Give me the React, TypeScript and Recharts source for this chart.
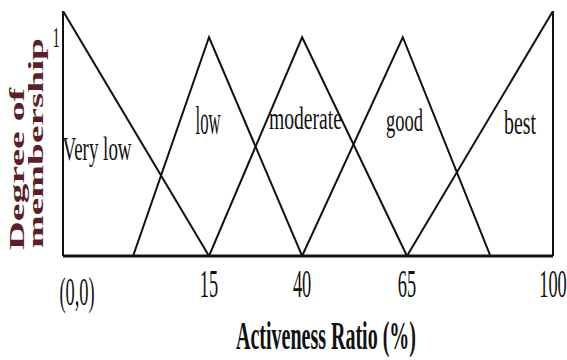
import React from 'react';
import { LineChart, Line, XAxis, YAxis, ReferenceLine, ReferenceDot } from 'recharts';

// membership functions: x = activeness ratio (%), y = degree of membership
const veryLow = [{ x: 0, y: 1.12 }, { x: 15, y: 0 }];
const low = [{ x: 7.2, y: 0 }, { x: 15, y: 1 }, { x: 40, y: 0 }];
const moderate = [{ x: 15, y: 0 }, { x: 40, y: 1 }, { x: 65, y: 0 }];
const good = [{ x: 40, y: 0 }, { x: 64, y: 1 }, { x: 85, y: 0 }];
const best = [{ x: 65, y: 0 }, { x: 100, y: 1.12 }];

const setNames = ['Very low', 'low', 'moderate', 'good', 'best'];
const labelX = [3.5, 14.9, 40.8, 64.4, 92.1];
const labelY = [0.44, 0.56, 0.58, 0.57, 0.56];

const xTicks = [0, 15, 40, 65, 100];
const xTickLabels = ['(0,0)', '15', '40', '65', '100'];
const yTicks = [1];

// the drawing is not to scale: each tick sits at a fixed share of the axis
const X_FRACS = [0, 0.298, 0.488, 0.702, 1];

function stretchScale() {
  let dom = [0, 100];
  let rng = [0, 1];
  const s: any = (v: number) => {
    let i = 0;
    while (i < xTicks.length - 2 && v > xTicks[i + 1]) i++;
    const t = (v - xTicks[i]) / (xTicks[i + 1] - xTicks[i]);
    const f = X_FRACS[i] + t * (X_FRACS[i + 1] - X_FRACS[i]);
    return rng[0] + f * (rng[1] - rng[0]);
  };
  s.domain = (d?: any[]) => {
    if (d === undefined) return dom.slice();
    dom = d.map(Number);
    return s;
  };
  s.range = (r?: any[]) => {
    if (r === undefined) return rng.slice();
    rng = r.map(Number);
    return s;
  };
  s.copy = () => stretchScale().domain(dom).range(rng);
  s.ticks = () => xTicks.slice();
  return s;
}

const FONT = '"Liberation Serif", "DejaVu Serif", serif';
const INK = '#111';
const TITLE_RED = '#5a1f2b';

const labelStyle = [
  { size: 34, width: 69 },
  { size: 40, width: 25 },
  { size: 32, width: 73 },
  { size: 32, width: 37 },
  { size: 34, width: 32 },
];

const SText = ({ x, y, text, size, sx = 1, len, weight = 'normal', fill = INK, rotate = false, anchor = 'middle' }: any) => (
  <text
    transform={`translate(${x},${y}) scale(${sx},1)${rotate ? ' rotate(-90)' : ''}`}
    textAnchor={anchor}
    fontFamily={FONT}
    fontSize={size}
    fontWeight={weight}
    fill={fill}
    textLength={len}
    lengthAdjust={len ? 'spacingAndGlyphs' : undefined}
  >
    {text}
  </text>
);

const XTick = ({ x, y, payload }: any) => {
  const i = xTicks.indexOf(payload.value);
  const first = i === 0;
  return <SText x={x + (first ? 14 : 0)} y={y + (first ? 41 : 33)} text={xTickLabels[i]} size={40} sx={0.46} />;
};

const YTick = ({ x, y, payload }: any) => (
  <SText x={x + 1} y={y + 10} text={String(payload.value)} size={29} sx={0.5} />
);

const XTitle = ({ viewBox }: any) => (
  <SText x={viewBox.x + viewBox.width / 2 + 18} y={viewBox.y + 93} text="Activeness Ratio (%)" size={40} sx={0.5} weight="bold" />
);

const YTitle = ({ viewBox }: any) => (
  <g>
    <SText x={24} y={viewBox.y + viewBox.height - 6} text="Degree of" size={42} sx={0.48} len={162} weight="bold" fill={TITLE_RED} rotate anchor="start" />
    <SText x={43} y={viewBox.y + viewBox.height - 8} text="membership" size={42} sx={0.48} len={210} weight="bold" fill={TITLE_RED} rotate anchor="start" />
  </g>
);

const sets = [veryLow, low, moderate, good, best];

export default function App() {
  return (
    <div style={{ position: 'absolute', left: 0, top: 0, background: '#fff' }}>
      <LineChart width={567} height={360} margin={{ top: 11, right: 14, bottom: 44, left: 0 }}>
        <XAxis
          type="number"
          dataKey="x"
          domain={[0, 100]}
          allowDataOverflow
          scale={stretchScale() as any}
          ticks={xTicks}
          interval={0}
          tickLine={false}
          axisLine={{ stroke: INK, strokeWidth: 3 }}
          tick={<XTick />}
          height={60}
          label={<XTitle />}
        />
        <YAxis
          type="number"
          dataKey="y"
          domain={[0, 1.12]}
          allowDataOverflow
          ticks={yTicks}
          interval={0}
          tickLine={false}
          axisLine={{ stroke: INK, strokeWidth: 2 }}
          tick={<YTick />}
          width={63}
          label={<YTitle />}
        />
        <ReferenceLine x={100} stroke={INK} strokeWidth={2} />
        {sets.map((pts, i) => (
          <Line
            key={setNames[i]}
            data={pts}
            dataKey="y"
            type="linear"
            stroke={INK}
            strokeWidth={2}
            dot={false}
            activeDot={false}
            isAnimationActive={false}
          />
        ))}
        {setNames.map((name, i) => (
          <ReferenceDot
            key={name}
            x={labelX[i]}
            y={labelY[i]}
            r={0}
            shape={(p: any) => (
              <SText x={p.cx} y={p.cy} text={name} size={labelStyle[i].size} len={labelStyle[i].width} />
            )}
          />
        ))}
      </LineChart>
    </div>
  );
}
